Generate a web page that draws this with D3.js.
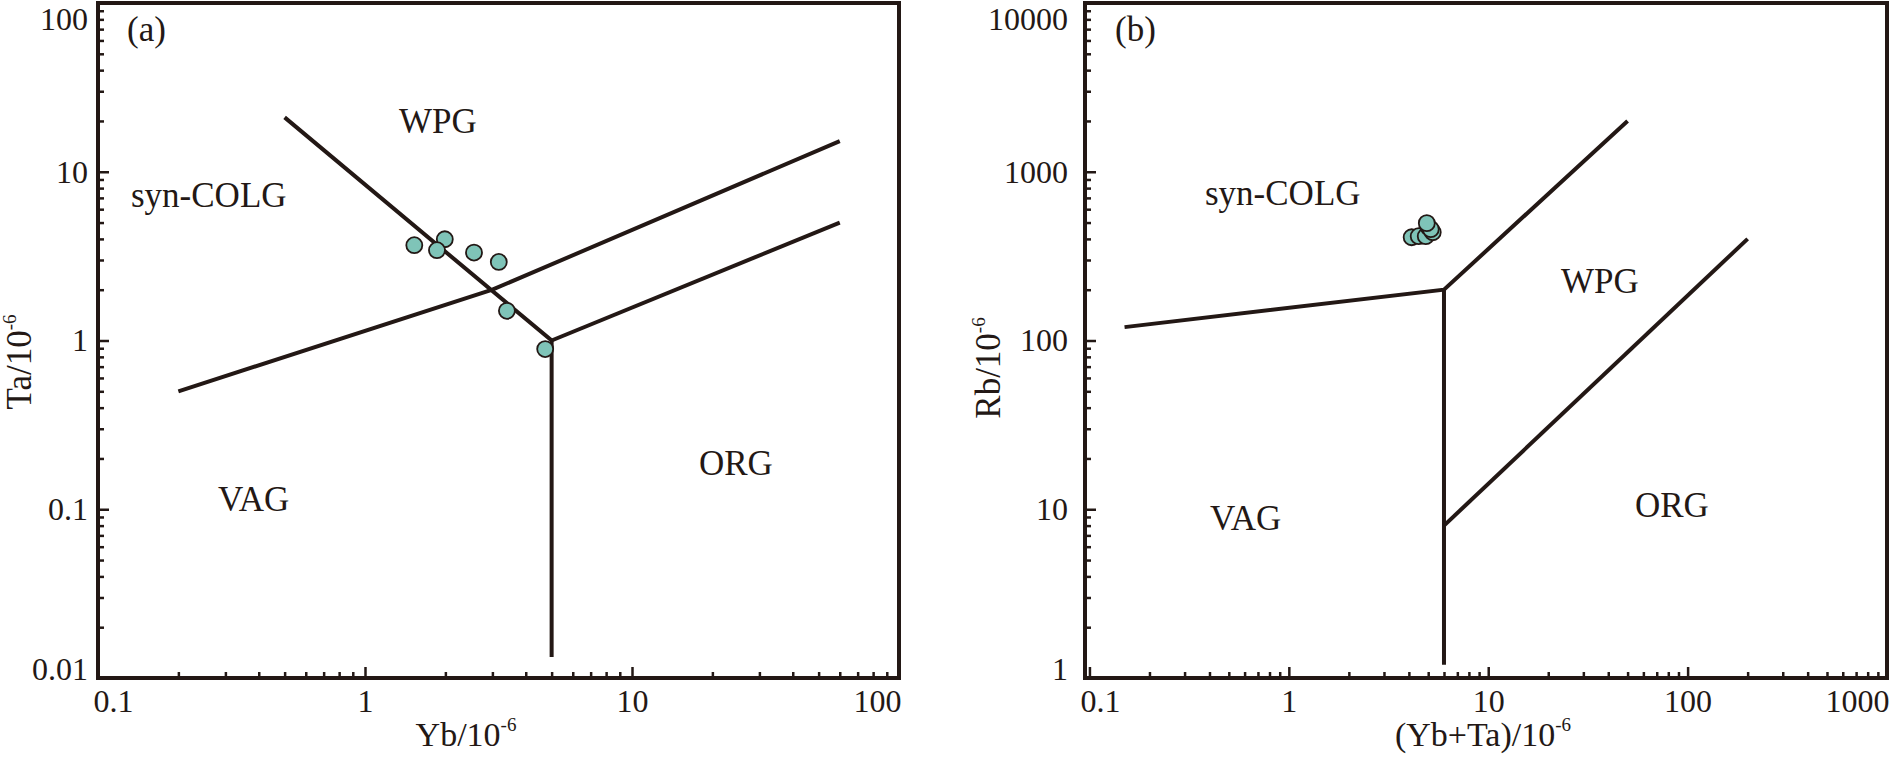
<!DOCTYPE html>
<html>
<head>
<meta charset="utf-8">
<script src="https://cdn.jsdelivr.net/npm/d3@7"></script>
<style>
  body { margin: 0; background: #fff; }
  text { font-family: "Liberation Serif", "Times New Roman", serif; fill: #231815; }
</style>
</head>
<body>
<div id="chart"></div>
<script>
// (a) Ta vs Yb, samples
var ybValues = [1.53, 1.99, 1.86, 2.56, 3.17, 3.40, 4.73];
var taValues = [3.67, 3.98, 3.43, 3.32, 2.92, 1.50, 0.89];

// (b) Rb vs (Yb+Ta), samples
var ybTaValues = [4.13, 4.48, 4.86, 5.03, 5.27, 5.15, 4.92];
var rbValues   = [409, 415, 415, 469, 438, 457, 496];

// field boundaries (Pearce et al. 1984), [x, y] pairs
var boundaryA = [
  [[0.5, 21], [5, 1], [5, 0.0133]],
  [[5, 1], [60, 5]],
  [[0.2, 0.5], [3, 2], [60, 15.2]]
];
var boundaryB = [
  [[0.15, 120], [6, 200], [50, 2000]],
  [[6, 200], [6, 1.2]],
  [[6, 8], [200, 400]]
];

var majorTicksA_x = [0.1, 1, 10, 100];
var majorTicksA_y = [0.01, 0.1, 1, 10, 100];
var majorTicksB_x = [0.1, 1, 10, 100, 1000];
var majorTicksB_y = [1, 10, 100, 1000, 10000];

var fieldNames = ["syn-COLG", "WPG", "VAG", "ORG"];

var width = 1891, height = 757;
var ink = "#231815";

var svg = d3.select("#chart").append("svg")
  .attr("width", width)
  .attr("height", height);

var panels = [
  {
    tag: "(a)", tagPos: [127, 41],
    left: 98, right: 899, top: 3, bottom: 678,
    xDomain: [0.1, 100], yDomain: [0.01, 100],
    xMajor: majorTicksA_x, yMajor: majorTicksA_y,
    xs: ybValues, ys: taValues, bounds: boundaryA,
    yPad: 10,
    labelPos: [[131, 207], [399, 133], [218, 511], [699, 475]],
    xTitle: "Yb/10", xTitleX: 466,
    yTitle: "Ta/10", yTitleX: 31, yTitleY: 362
  },
  {
    tag: "(b)", tagPos: [1115, 41],
    left: 1085, right: 1887, top: 3, bottom: 678,
    xDomain: [0.095, 1000], yDomain: [1, 10000],
    xMajor: majorTicksB_x, yMajor: majorTicksB_y,
    xs: ybTaValues, ys: rbValues, bounds: boundaryB,
    yPad: 17,
    labelPos: [[1205, 205], [1561, 293], [1210, 530], [1635, 517]],
    xTitle: "(Yb+Ta)/10", xTitleX: 1483,
    yTitle: "Rb/10", yTitleX: 1000, yTitleY: 368
  }
];

panels.forEach(drawPanel);

function drawPanel(p) {
  var g = svg.append("g");

  var x = d3.scaleLog().domain(p.xDomain).range([p.left, p.right]);
  var y = d3.scaleLog().domain(p.yDomain).range([p.bottom, p.top]);

  var isMajor = function(list) {
    return function(d) { return list.some(function(m) { return Math.abs(d / m - 1) < 1e-6; }); };
  };
  var xMinor = x.ticks().filter(function(d) { return !isMajor(p.xMajor)(d) && d > p.xDomain[0]; });
  var yMinor = y.ticks().filter(function(d) { return !isMajor(p.yMajor)(d); });

  // minor ticks, pointing inward
  g.append("g")
    .attr("transform", "translate(0," + p.bottom + ")")
    .call(d3.axisBottom(x).tickValues(xMinor).tickSize(-6).tickSizeOuter(0).tickFormat(""))
    .call(styleAxis);
  g.append("g")
    .attr("transform", "translate(" + p.left + ",0)")
    .call(d3.axisLeft(y).tickValues(yMinor).tickSize(-6).tickSizeOuter(0).tickFormat(""))
    .call(styleAxis);

  // major ticks with labels
  var xAxis = g.append("g")
    .attr("transform", "translate(0," + p.bottom + ")")
    .call(d3.axisBottom(x).tickValues(p.xMajor).tickSize(-11).tickSizeOuter(0)
      .tickPadding(11).tickFormat(d3.format("~g")))
    .call(styleAxis);
  var xLabels = xAxis.selectAll(".tick text");
  xLabels.filter(function(d, i) { return i === 0; })
    .attr("text-anchor", "start").attr("x", p.left - x(p.xMajor[0]) - 5);
  xLabels.filter(function(d, i, n) { return i === n.length - 1; })
    .attr("text-anchor", "end").attr("x", p.right - x(p.xMajor[p.xMajor.length - 1]) + 2);

  var yAxis = g.append("g")
    .attr("transform", "translate(" + p.left + ",0)")
    .call(d3.axisLeft(y).tickValues(p.yMajor).tickSize(-11).tickSizeOuter(0)
      .tickPadding(p.yPad).tickFormat(d3.format("~g")))
    .call(styleAxis);
  var yLabels = yAxis.selectAll(".tick text");
  yLabels.filter(function(d, i) { return i === 0; }).attr("y", -9);
  // keep the top label inside the picture
  yLabels.filter(function(d, i, n) { return i === n.length - 1; }).attr("y", 16);

  // frame
  g.append("rect")
    .attr("x", p.left).attr("y", p.top)
    .attr("width", p.right - p.left).attr("height", p.bottom - p.top)
    .attr("fill", "none").attr("stroke", ink).attr("stroke-width", 4);

  // field boundaries
  var line = d3.line()
    .x(function(d) { return x(d[0]); })
    .y(function(d) { return y(d[1]); });
  g.selectAll("path.bound")
    .data(p.bounds)
    .enter().append("path")
    .attr("class", "bound")
    .attr("d", line)
    .attr("fill", "none")
    .attr("stroke", ink)
    .attr("stroke-width", 4)
    .attr("stroke-linejoin", "miter");

  // samples
  g.selectAll("circle.sample")
    .data(p.xs.map(function(v, i) { return [v, p.ys[i]]; }))
    .enter().append("circle")
    .attr("class", "sample")
    .attr("cx", function(d) { return x(d[0]); })
    .attr("cy", function(d) { return y(d[1]); })
    .attr("r", 8)
    .attr("fill", "#7fc4b8")
    .attr("stroke", ink)
    .attr("stroke-width", 1.8);

  // field names
  g.selectAll("text.field")
    .data(fieldNames)
    .enter().append("text")
    .attr("class", "field")
    .attr("x", function(d, i) { return p.labelPos[i][0]; })
    .attr("y", function(d, i) { return p.labelPos[i][1]; })
    .attr("font-size", 35)
    .text(function(d) { return d; });

  g.append("text")
    .attr("x", p.tagPos[0]).attr("y", p.tagPos[1])
    .attr("font-size", 35)
    .text(p.tag);

  // axis titles
  var xt = g.append("text")
    .attr("x", p.xTitleX).attr("y", 746)
    .attr("text-anchor", "middle")
    .attr("font-size", 34);
  xt.append("tspan").text(p.xTitle);
  xt.append("tspan").attr("font-size", 19).attr("dy", -15).text("-6");

  var yt = g.append("text")
    .attr("transform", "translate(" + p.yTitleX + "," + p.yTitleY + ") rotate(-90)")
    .attr("text-anchor", "middle")
    .attr("font-size", 35);
  yt.append("tspan").text(p.yTitle);
  yt.append("tspan").attr("font-size", 19).attr("dy", -15).text("-6");
}

function styleAxis(sel) {
  sel.select(".domain").remove();
  sel.attr("font-family", null).attr("font-size", 32);
  sel.selectAll(".tick line").attr("stroke", ink).attr("stroke-width", 2.5);
  sel.selectAll(".tick text").attr("fill", ink);
}
</script>
</body>
</html>
